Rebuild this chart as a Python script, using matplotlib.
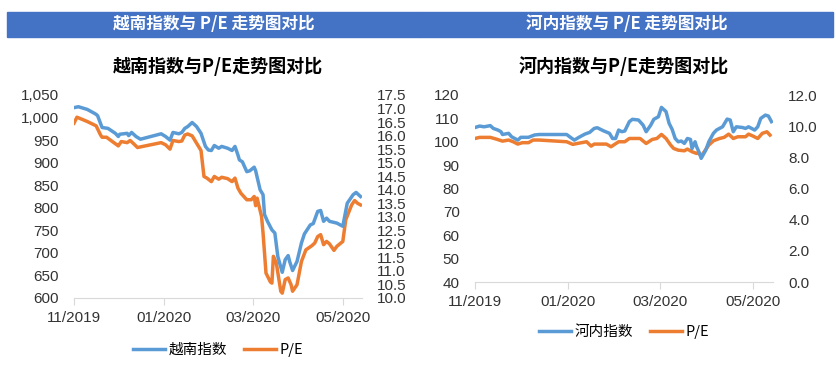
import matplotlib
matplotlib.use("Agg")
import matplotlib.pyplot as plt
import matplotlib.dates as mdates
import matplotlib.patches as patches
import matplotlib.ticker as mticker
import pandas as pd

plt.rcParams['font.family'] = ['Liberation Sans', 'Noto Sans CJK SC', 'DejaVu Sans']
CJK = ['Noto Sans CJK SC', 'DejaVu Sans']

BLUE = '#5B9BD5'
ORANGE = '#ED7D31'
BAR = '#4472C4'
TXT = '#333333'

# 越南指数 (左轴)
vn_idx_dates = ["2019-11-01", "2019-11-04", "2019-11-10", "2019-11-15", "2019-11-16", "2019-11-17",
                "2019-11-20", "2019-11-24", "2019-11-29", "2019-12-01", "2019-12-02", "2019-12-07",
                "2019-12-08", "2019-12-10", "2019-12-13", "2019-12-16", "2019-12-30", "2020-01-02",
                "2020-01-05", "2020-01-07", "2020-01-11", "2020-01-13", "2020-01-15", "2020-01-17",
                "2020-01-20", "2020-01-23", "2020-01-26", "2020-01-29", "2020-01-31", "2020-02-02",
                "2020-02-04", "2020-02-07", "2020-02-09", "2020-02-13", "2020-02-16", "2020-02-18",
                "2020-02-20", "2020-02-21", "2020-02-23", "2020-02-26", "2020-02-28", "2020-03-02",
                "2020-03-03", "2020-03-06", "2020-03-08", "2020-03-09", "2020-03-11", "2020-03-14",
                "2020-03-16", "2020-03-18", "2020-03-21", "2020-03-23", "2020-03-25", "2020-03-26",
                "2020-03-28", "2020-03-31", "2020-04-03", "2020-04-05", "2020-04-09", "2020-04-11",
                "2020-04-14", "2020-04-16", "2020-04-18", "2020-04-20", "2020-04-22", "2020-04-27",
                "2020-05-01", "2020-05-04", "2020-05-08", "2020-05-10", "2020-05-11", "2020-05-13"]
vn_idx = [1022, 1024, 1018, 1009, 1007, 1004,
          978, 976, 965, 958, 963, 965,
          960, 967, 958, 952, 964, 958,
          950, 967, 964, 967, 976, 980,
          989, 980, 965, 936, 928, 927,
          938, 932, 936, 932, 927, 936,
          917, 906, 902, 880, 882, 890,
          882, 840, 829, 785, 770, 751,
          744, 692, 657, 685, 694, 681,
          661, 681, 722, 742, 762, 765,
          792, 794, 770, 777, 770, 766,
          759, 810, 829, 834, 831, 825]

# 越南 P/E (右轴)
vn_pe_dates = ["2019-11-01", "2019-11-03", "2019-11-10", "2019-11-16", "2019-11-19", "2019-11-20",
               "2019-11-23", "2019-11-25", "2019-11-30", "2019-12-01", "2019-12-03", "2019-12-07",
               "2019-12-09", "2019-12-11", "2019-12-14", "2019-12-30", "2020-01-02", "2020-01-05",
               "2020-01-07", "2020-01-11", "2020-01-13", "2020-01-15", "2020-01-17", "2020-01-20",
               "2020-01-23", "2020-01-26", "2020-01-28", "2020-01-30", "2020-02-02", "2020-02-04",
               "2020-02-07", "2020-02-09", "2020-02-13", "2020-02-16", "2020-02-18", "2020-02-20",
               "2020-02-22", "2020-02-26", "2020-02-29", "2020-03-02", "2020-03-03", "2020-03-04",
               "2020-03-07", "2020-03-08", "2020-03-10", "2020-03-13", "2020-03-14", "2020-03-15",
               "2020-03-17", "2020-03-20", "2020-03-21", "2020-03-23", "2020-03-25", "2020-03-27",
               "2020-03-28", "2020-03-31", "2020-04-03", "2020-04-06", "2020-04-10", "2020-04-12",
               "2020-04-14", "2020-04-16", "2020-04-18", "2020-04-20", "2020-04-22", "2020-04-25",
               "2020-04-27", "2020-05-01", "2020-05-03", "2020-05-07", "2020-05-09", "2020-05-11",
               "2020-05-13"]
vn_pe = [16.46, 16.68, 16.52, 16.36, 16.02, 15.94,
         15.94, 15.86, 15.66, 15.62, 15.78, 15.74,
         15.82, 15.72, 15.56, 15.74, 15.66, 15.50,
         15.82, 15.78, 15.80, 16.02, 16.06, 15.99,
         15.72, 15.45, 14.49, 14.43, 14.30, 14.49,
         14.39, 14.46, 14.41, 14.30, 14.43, 14.06,
         13.87, 13.63, 13.63, 13.75, 13.41, 13.69,
         13.01, 12.40, 10.92, 10.59, 10.55, 11.54,
         11.29, 10.25, 10.18, 10.68, 10.74, 10.49,
         10.25, 10.49, 11.35, 11.78, 11.93, 12.03,
         12.27, 12.34, 11.97, 12.09, 12.00, 11.76,
         11.91, 12.09, 12.89, 13.44, 13.60, 13.50,
         13.44]

# 河内指数 (左轴)
hn_idx_dates = ["2019-11-01", "2019-11-04", "2019-11-07", "2019-11-11", "2019-11-13", "2019-11-16",
                "2019-11-18", "2019-11-19", "2019-11-23", "2019-11-25", "2019-11-29", "2019-12-01",
                "2019-12-06", "2019-12-10", "2019-12-13", "2019-12-31", "2020-01-02", "2020-01-05",
                "2020-01-08", "2020-01-12", "2020-01-15", "2020-01-18", "2020-01-20", "2020-01-24",
                "2020-01-28", "2020-01-30", "2020-02-01", "2020-02-03", "2020-02-05", "2020-02-07",
                "2020-02-10", "2020-02-12", "2020-02-16", "2020-02-19", "2020-02-21", "2020-02-24",
                "2020-02-26", "2020-02-29", "2020-03-02", "2020-03-05", "2020-03-07", "2020-03-09",
                "2020-03-11", "2020-03-13", "2020-03-15", "2020-03-17", "2020-03-19", "2020-03-21",
                "2020-03-22", "2020-03-24", "2020-03-25", "2020-03-27", "2020-03-28", "2020-03-31",
                "2020-04-02", "2020-04-05", "2020-04-07", "2020-04-11", "2020-04-14", "2020-04-16",
                "2020-04-18", "2020-04-20", "2020-04-24", "2020-04-26", "2020-04-28", "2020-05-02",
                "2020-05-04", "2020-05-06", "2020-05-09", "2020-05-11", "2020-05-13"]
hn_idx = [106.1, 106.7, 106.4, 106.9, 105.7, 105.0,
          104.3, 103.1, 103.6, 102.1, 100.7, 101.9,
          101.9, 102.9, 103.1, 103.1, 102.1, 100.7,
          101.9, 103.3, 104.0, 105.7, 106.0, 104.7,
          103.6, 101.4, 101.4, 105.0, 104.3, 104.6,
          108.6, 109.6, 109.3, 107.1, 104.3, 107.1,
          109.6, 110.7, 114.7, 112.9, 107.9, 105.3,
          101.4, 100.0, 100.3, 99.3, 101.4, 101.0,
          97.1, 100.0, 97.9, 95.0, 92.9, 96.4,
          100.0, 103.6, 105.0, 106.4, 109.7, 109.3,
          104.3, 106.4, 106.1, 105.7, 106.4, 105.0,
          106.4, 110.0, 111.4, 111.0, 108.6]

# 河内 P/E (右轴)
hn_pe_dates = ["2019-11-01", "2019-11-04", "2019-11-11", "2019-11-15", "2019-11-19", "2019-11-23",
               "2019-11-26", "2019-11-29", "2019-12-02", "2019-12-06", "2019-12-09", "2019-12-13",
               "2019-12-31", "2020-01-04", "2020-01-07", "2020-01-13", "2020-01-16", "2020-01-18",
               "2020-01-26", "2020-01-29", "2020-02-03", "2020-02-07", "2020-02-10", "2020-02-17",
               "2020-02-21", "2020-02-25", "2020-02-28", "2020-03-02", "2020-03-05", "2020-03-08",
               "2020-03-10", "2020-03-13", "2020-03-17", "2020-03-19", "2020-03-22", "2020-03-25",
               "2020-03-26", "2020-03-28", "2020-03-30", "2020-04-02", "2020-04-05", "2020-04-09",
               "2020-04-12", "2020-04-15", "2020-04-18", "2020-04-21", "2020-04-26", "2020-04-28",
               "2020-05-01", "2020-05-04", "2020-05-07", "2020-05-10", "2020-05-12"]
hn_pe = [9.21, 9.28, 9.28, 9.17, 9.04, 9.11,
         9.00, 8.85, 8.94, 8.94, 9.11, 9.11,
         9.00, 8.83, 8.89, 9.00, 8.72, 8.85,
         8.85, 8.68, 9.00, 9.00, 9.21, 9.21,
         8.89, 9.15, 9.21, 9.47, 9.21, 8.79,
         8.57, 8.46, 8.42, 8.53, 8.36, 8.25,
         8.29, 8.08, 8.36, 8.79, 9.06, 9.21,
         9.28, 9.49, 9.21, 9.32, 9.32, 9.49,
         9.36, 9.21, 9.54, 9.64, 9.43]

month_ticks = ["2019-11-01", "2020-01-01", "2020-03-01", "2020-05-01"]
x_start, x_end = "2019-11-01", "2020-05-14"

fig = plt.figure(figsize=(8.37, 3.74), dpi=100)

# 蓝色标题栏
W, H = 837.0, 374.0
for x0, x1, txt in [(7, 420, "越南指数与 P/E 走势图对比"), (420, 833, "河内指数与 P/E 走势图对比")]:
    fig.patches.append(patches.Rectangle((x0 / W, 1 - 37 / H), (x1 - x0) / W, 25 / H,
                                         transform=fig.transFigure, color=BAR, zorder=0))
    fig.text((x0 + x1) / 2 / W, 1 - 24.5 / H, txt, color='white', fontsize=12, fontweight='bold',
             family=CJK, ha='center', va='center')


def make_panel(rect, dates1, vals1, dates2, vals2, ylim1, yticks1, ylim2, yticks2,
               fmt1, fmt2, title, title_y, name, leg_y):
    ax = fig.add_axes(rect)
    ax2 = ax.twinx()
    ax.plot(pd.to_datetime(dates1), vals1, color=BLUE, lw=2.5, zorder=3, label=name)
    ax2.plot(pd.to_datetime(dates2), vals2, color=ORANGE, lw=2.5, zorder=2, label="P/E")
    ax.set_zorder(ax2.get_zorder() + 1)
    ax.patch.set_visible(False)

    ax.set_xlim(pd.Timestamp(x_start), pd.Timestamp(x_end))
    ax.set_ylim(*ylim1)
    ax.set_yticks(yticks1)
    ax2.set_ylim(*ylim2)
    ax2.set_yticks(yticks2)
    ax.yaxis.set_major_formatter(mticker.FuncFormatter(fmt1))
    ax2.yaxis.set_major_formatter(mticker.FuncFormatter(fmt2))
    ax.set_xticks(pd.to_datetime(month_ticks))
    ax.xaxis.set_major_formatter(mdates.DateFormatter("%m/%Y"))

    for a in (ax, ax2):
        for s in a.spines.values():
            s.set_visible(False)
    ax.spines['bottom'].set_visible(True)
    ax.spines['bottom'].set_color('#D9D9D9')
    ax.tick_params(axis='x', colors='#D9D9D9', length=5, width=0.8, pad=4, labelcolor=TXT,
                   labelsize=11)
    ax.tick_params(axis='y', length=0, pad=11, labelcolor=TXT, labelsize=11)
    ax2.tick_params(axis='y', length=0, pad=11, labelcolor=TXT, labelsize=11)

    cx = rect[0] + rect[2] / 2
    fig.text(cx, title_y, title, fontsize=13, fontweight='bold', family=CJK,
             ha='center', va='center', color='black')
    h1, l1 = ax.get_legend_handles_labels()
    h2, l2 = ax2.get_legend_handles_labels()
    fig.legend(h1 + h2, l1 + l2, loc='center', bbox_to_anchor=(cx, leg_y), ncol=2,
               frameon=False, prop={'family': CJK, 'size': 10.5}, handlelength=2.2,
               columnspacing=1.2, handletextpad=0.2)
    return ax, ax2


make_panel([74 / W, 1 - 298 / H, 288 / W, 203 / H],
           vn_idx_dates, vn_idx, vn_pe_dates, vn_pe,
           (600, 1050), list(range(600, 1051, 50)), (10.0, 17.5),
           [10 + 0.5 * i for i in range(16)],
           lambda v, p: "{:,.0f}".format(v), lambda v, p: "{:.1f}".format(v),
           "越南指数与P/E走势图对比", 1 - 66 / H, "越南指数", 1 - 350 / H)

make_panel([475 / W, 1 - 282 / H, 298 / W, 187 / H],
           hn_idx_dates, hn_idx, hn_pe_dates, hn_pe,
           (40, 120), list(range(40, 121, 10)), (0.0, 12.0),
           [0, 2, 4, 6, 8, 10, 12],
           lambda v, p: "{:.0f}".format(v), lambda v, p: "{:.1f}".format(v),
           "河内指数与P/E走势图对比", 1 - 66 / H, "河内指数", 1 - 332 / H)

fig.savefig("out.png", dpi=100)
